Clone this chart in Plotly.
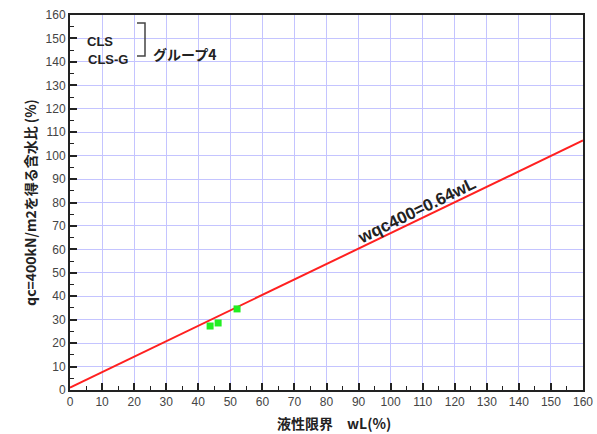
import plotly.graph_objects as go

# data
pts_x = [43.7, 46.2, 52.1]
pts_y = [27.3, 28.6, 34.6]
line_x = [0, 160]
line_y = [1.0, 106.5]
x_ticks = list(range(0, 161, 10))
y_ticks = list(range(0, 161, 10))

JP = "Noto Sans CJK JP"
fig = go.Figure()
fig.add_trace(go.Scatter(x=line_x, y=line_y, mode="lines",
                         line=dict(color="#ff2020", width=2), showlegend=False))
fig.add_trace(go.Scatter(x=pts_x, y=pts_y, mode="markers",
                         marker=dict(symbol="square", size=7, color="#22ee22"),
                         showlegend=False))

axis_common = dict(range=[0, 160], showgrid=True, gridcolor="#c4c4ff", gridwidth=1,
                   zeroline=False, showline=True, linecolor="#222", linewidth=2,
                   mirror=True, ticks="inside", ticklen=7, tickwidth=1.5, tickcolor="#222",
                   automargin=False,
                   tickfont=dict(family="Liberation Sans", size=12, color="#444"),
                   minor=dict(ticks="inside", ticklen=4, tickwidth=1.2, tickcolor="#222",
                              dtick=5, showgrid=False))
fig.update_xaxes(**axis_common, tickvals=x_ticks)
fig.update_yaxes(**axis_common, tickvals=y_ticks,
                 title=dict(text="<b>qc=400kN/m2を得る含水比 (%)</b>", font=dict(family=JP, size=14, color="#222"),
                            standoff=6))

# x axis title
fig.add_annotation(xref="paper", yref="paper", x=(334-70)/513, y=(390-411)/375, yanchor="top",
                   text="<b>液性限界　wL(%)</b>", showarrow=False,
                   font=dict(family=JP, size=14, color="#222"))

fig.add_annotation(x=108.2, y=76.8, text="<b>wqc400=0.64wL</b>", textangle=-26, showarrow=False,
                   font=dict(family="Liberation Sans", size=17, color="#222"))

# legend-like labels
fig.add_annotation(xref="paper", yref="paper", x=(85-70)/513, y=1-(32-15)/375, xanchor="left",
                   text="<b>CLS</b>", showarrow=False,
                   font=dict(family="Liberation Sans", size=13, color="#222"))
fig.add_annotation(xref="paper", yref="paper", x=(86-70)/513, y=1-(50-15)/375, xanchor="left",
                   text="<b>CLS-G</b>", showarrow=False,
                   font=dict(family="Liberation Sans", size=13, color="#222"))
fig.add_annotation(xref="paper", yref="paper", x=(151-70)/513, y=1-(42-15)/375, xanchor="left",
                   text="<b>グループ4</b>", showarrow=False,
                   font=dict(family=JP, size=14, color="#222"))
bx0 = (137-70)/513; bx1 = (145-70)/513
by0 = 1-(23-15)/375; by1 = 1-(56-15)/375
fig.add_shape(type="path", xref="paper", yref="paper",
              path=f"M {bx0} {by0} L {bx1} {by0} L {bx1} {by1} L {bx0} {by1}",
              line=dict(color="#444", width=1.5))

fig.update_layout(width=597, height=434, margin=dict(l=70, r=14, t=15, b=44),
                  plot_bgcolor="white", paper_bgcolor="white")
fig.write_html("out.html", config={"displayModeBar": False},
               post_script="document.body.style.margin='0';document.body.style.overflow='hidden';")
